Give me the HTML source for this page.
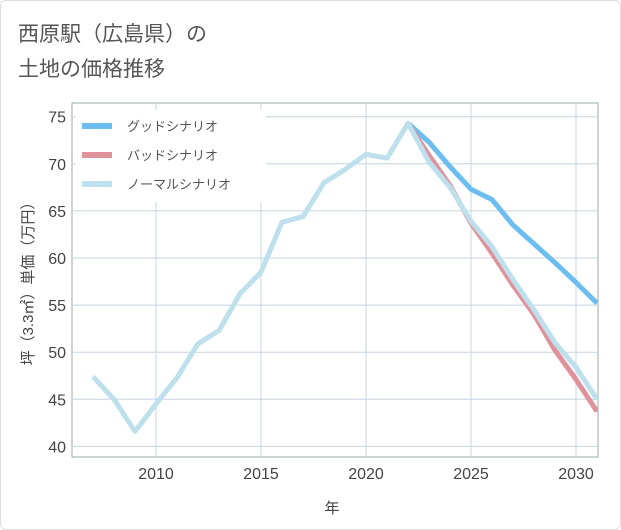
<!DOCTYPE html>
<html><head><meta charset="utf-8"><style>
body{margin:0;background:#fff;font-family:"Liberation Sans","Noto Sans CJK JP",sans-serif;}
#wrap{position:relative;width:619px;height:528px;border:1px solid #ddd;border-radius:6px;overflow:hidden;}
</style></head><body>
<div id="wrap">
<svg id="chart" width="621" height="530" style="position:absolute;left:-1px;top:-1px">
<text x="18" y="41" font-size="21" fill="#555">西原駅（広島県）の</text>
<text x="18" y="76" font-size="21" fill="#555">土地の価格推移</text>
<g id="grid"></g>
<g id="series"></g>
<g id="legend"></g>
<text x="332" y="513" font-size="15" fill="#444" text-anchor="middle">年</text>
<text transform="translate(33,280) rotate(-90)" font-size="15" fill="#444" text-anchor="middle">坪（3.3㎡）単価（万円）</text>
</svg>
</div>
<script>
const years=[2007,2008,2009,2010,2011,2012,2013,2014,2015,2016,2017,2018,2019,2020,2021,2022,2023,2024,2025,2026,2027,2028,2029,2030,2031];
const normal=[47.4,45.0,41.6,44.5,47.3,50.9,52.3,56.2,58.5,63.8,64.4,68.0,69.4,71.0,70.6,74.3,70.2,67.5,63.9,61.2,57.7,54.5,51.0,48.4,45.0];
const futureYears=[2022,2023,2024,2025,2026,2027,2028,2029,2030,2031];
const good=[74.3,72.3,69.7,67.3,66.2,63.5,61.5,59.5,57.4,55.2];
const bad=[74.3,70.9,67.7,63.7,60.5,57.1,54.0,50.2,47.1,43.7];
const xTicks=[2010,2015,2020,2025,2030];
const yTicks=[40,45,50,55,60,65,70,75];
const L=72,R=598,T=103,B=457;
const x=v=>156+(v-2010)*21.0;
const y=v=>116.7+(75-v)*9.42;
const NS='http://www.w3.org/2000/svg';
function mk(tag,attrs,parent){const e=document.createElementNS(NS,tag);for(const k in attrs)e.setAttribute(k,attrs[k]);parent.appendChild(e);return e;}
const grid=document.getElementById('grid');
const frame=mk('rect',{x:L,y:T,width:R-L,height:B-T,fill:'none',stroke:'#9aa',"stroke-width":1},grid);


yTicks.forEach(t=>{
 const l=mk('line',{x1:L,x2:R,y1:y(t),y2:y(t),stroke:'#c8d4e0'},grid);
 
 
 const tx=mk('text',{x:L-6,y:y(t)+6,"font-size":16,fill:'#444',"text-anchor":'end'},grid);
 tx.textContent=t;
 
 
});
xTicks.forEach(t=>{
 const l=mk('line',{x1:x(t),x2:x(t),y1:T,y2:B,stroke:'#c8d4e0'},grid);
 
 
 const tx=mk('text',{x:x(t),y:B+22,"font-size":16,fill:'#444',"text-anchor":'middle'},grid);
 tx.textContent=t;
 
 
});
const sg=document.getElementById('series');
function line(xs,vs,color,name){
 const p=mk('polyline',{points:xs.map((v,i)=>x(v)+','+y(vs[i])).join(' '),fill:'none',stroke:color,"stroke-width":5,"stroke-linejoin":'round'},sg);
 
 
}
const cp=mk('clipPath',{id:'clip'},sg);mk('rect',{x:L,y:T,width:R-L,height:B-T},cp);
sg.setAttribute('clip-path','url(#clip)');
line(futureYears,good,'#6cbdf0','good-scenario-line');
line(futureYears,bad,'#e0929a','bad-scenario-line');
line(years,normal,'#bde0ec','normal-scenario-line');
const lg=document.getElementById('legend');
const bg=mk('rect',{x:76,y:110,width:190,height:92,fill:'#fff'},lg);


[['グッドシナリオ','#6cbdf0'],['バッドシナリオ','#e0929a'],['ノーマルシナリオ','#bde0ec']].forEach((d,i)=>{
 const g=mk('g',{},lg);
 
 
 mk('rect',{x:82,y:123+i*29,width:30,height:6,fill:d[1]},g);
 const t=mk('text',{x:127,y:131+i*29,"font-size":13,fill:'#555'},g);
 t.textContent=d[0];
});
</script>
</body></html>
